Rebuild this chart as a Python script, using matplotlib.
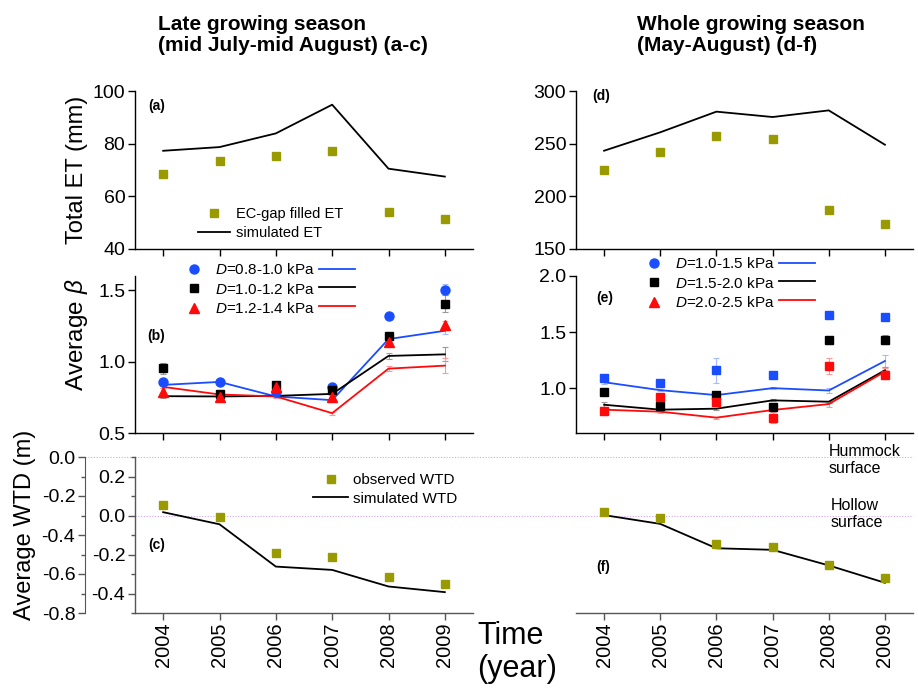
import matplotlib
matplotlib.use('Agg')
import matplotlib.pyplot as plt
from matplotlib.lines import Line2D
from matplotlib.ticker import MultipleLocator, FormatStrFormatter
import matplotlib.transforms as mtransforms

plt.rcParams['font.family'] = ['Liberation Sans', 'DejaVu Sans']
plt.rcParams['axes.unicode_minus'] = False
plt.rcParams['mathtext.fontset'] = 'custom'
plt.rcParams['mathtext.rm'] = 'Liberation Sans'
plt.rcParams['mathtext.it'] = 'Liberation Sans:italic'
plt.rcParams['mathtext.bf'] = 'Liberation Sans:bold'

# ---------------- data ----------------
years = [2004, 2005, 2006, 2007, 2008, 2009]

et_late_obs = [68.4, 73.3, 75.3, 77.2, 54.2, 51.3]
et_late_sim = [77.3, 78.7, 83.9, 94.8, 70.5, 67.5]
et_whole_obs = [225.3, 241.8, 257.3, 254.4, 186.7, 173.4]
et_whole_sim = [243.3, 260.8, 280.4, 275.3, 281.6, 249.0]

late_labels = ['0.8-1.0', '1.0-1.2', '1.2-1.4']
beta_late_obs_1 = [0.860, 0.860, 0.786, 0.823, 1.321, 1.505]
beta_late_obs_2 = [0.953, 0.774, 0.835, 0.800, 1.177, 1.405]
beta_late_obs_3 = [0.786, 0.754, 0.819, 0.754, 1.135, 1.258]
beta_late_obs_err_1 = [0.02, 0.01, 0.02, 0.02, 0.02, 0.04]
beta_late_obs_err_2 = [0.04, 0.02, 0.02, 0.02, 0.02, 0.06]
beta_late_obs_err_3 = [0.03, 0.02, 0.03, 0.03, 0.02, 0.03]
beta_late_sim_1 = [0.837, 0.858, 0.756, 0.730, 1.158, 1.216]
beta_late_sim_2 = [0.758, 0.756, 0.760, 0.774, 1.040, 1.051]
beta_late_sim_3 = [0.823, 0.770, 0.756, 0.639, 0.951, 0.972]
beta_late_sim_err_1 = [0.01, 0.01, 0.01, 0.01, 0.01, 0.02]
beta_late_sim_err_2 = [0.01, 0.01, 0.01, 0.01, 0.02, 0.05]
beta_late_sim_err_3 = [0.01, 0.01, 0.01, 0.01, 0.02, 0.05]

whole_labels = ['1.0-1.5', '1.5-2.0', '2.0-2.5']
beta_whole_obs_1 = [1.086, 1.042, 1.159, 1.118, 1.649, 1.631]
beta_whole_obs_2 = [0.962, 0.843, 0.938, 0.829, 1.425, 1.430]
beta_whole_obs_3 = [0.794, 0.918, 0.876, 0.735, 1.195, 1.121]
beta_whole_obs_err_1 = [0.02, 0.02, 0.11, 0.02, 0.02, 0.02]
beta_whole_obs_err_2 = [0.02, 0.02, 0.03, 0.02, 0.03, 0.04]
beta_whole_obs_err_3 = [0.03, 0.02, 0.03, 0.05, 0.07, 0.04]
beta_whole_sim_1 = [1.053, 0.982, 0.938, 1.000, 0.979, 1.242]
beta_whole_sim_2 = [0.852, 0.808, 0.817, 0.891, 0.879, 1.159]
beta_whole_sim_3 = [0.808, 0.790, 0.737, 0.805, 0.858, 1.147]
beta_whole_sim_err_1 = [0.02, 0.01, 0.01, 0.01, 0.02, 0.05]
beta_whole_sim_err_2 = [0.02, 0.01, 0.01, 0.01, 0.01, 0.03]
beta_whole_sim_err_3 = [0.02, 0.01, 0.01, 0.01, 0.03, 0.03]

wtd_late_obs = [0.053, -0.007, -0.191, -0.215, -0.314, -0.350]
wtd_late_sim = [0.017, -0.045, -0.262, -0.279, -0.364, -0.393]
wtd_whole_obs = [0.019, -0.014, -0.147, -0.159, -0.253, -0.320]
wtd_whole_sim = [0.002, -0.043, -0.168, -0.176, -0.256, -0.345]

# ---------------- style ----------------
OLIVE = '#999900'
BLUE = '#1a4dff'
RED = '#ff0a0a'
BLACK = '#000000'
LBLUE = '#a8baff'
LGRAY = '#9a9a9a'
LRED = '#ff9a9a'
GRAYSP = '#555555'

W, H = 918, 691
fig = plt.figure(figsize=(W / 100, H / 100), dpi=100)


def box(x0, y0, x1, y1):
    return [x0 / W, 1 - y1 / H, (x1 - x0) / W, (y1 - y0) / H]


ax_a = fig.add_axes(box(135, 91, 473, 249))
ax_b = fig.add_axes(box(135, 276, 473, 433))
ax_c = fig.add_axes(box(135, 457, 473, 613))
ax_d = fig.add_axes(box(576, 91, 913, 249))
ax_e = fig.add_axes(box(576, 276, 913, 433))
ax_f = fig.add_axes(box(576, 457, 913, 613))


def style(ax, spcolor='black', left=True, xlabels=False):
    ax.set_facecolor('none')
    for s in ['top', 'right']:
        ax.spines[s].set_visible(False)
    ax.spines['left'].set_visible(left)
    for s in ['left', 'bottom']:
        ax.spines[s].set_color(spcolor)
        ax.spines[s].set_linewidth(1.0)
    ax.set_xlim(2003.5, 2009.5)
    ax.set_xticks(years)
    ax.tick_params(axis='both', which='major', direction='out', length=5, width=1,
                   color=spcolor, labelsize=14, pad=2)
    ax.tick_params(axis='both', which='minor', direction='out', length=3, width=1,
                   color=spcolor)
    if xlabels:
        ax.set_xticklabels([str(y) for y in years], rotation=90, fontsize=14.5)
    else:
        ax.tick_params(axis='x', labelbottom=False)
    if not left:
        ax.tick_params(axis='y', which='both', left=False, labelleft=False)


for ax in (ax_a, ax_b, ax_d, ax_e):
    style(ax)
style(ax_c, GRAYSP, True, True)
style(ax_f, GRAYSP, False, True)

# ---- (a) ----
ax_a.plot(years, et_late_sim, color=BLACK, lw=1.3, zorder=2)
ax_a.plot(years, et_late_obs, ls='none', marker='s', ms=6, color=OLIVE, zorder=3)
ax_a.set_ylim(40, 100)
ax_a.set_yticks([40, 60, 80, 100])

# ---- (d) ----
ax_d.plot(years, et_whole_sim, color=BLACK, lw=1.3, zorder=2)
ax_d.plot(years, et_whole_obs, ls='none', marker='s', ms=6, color=OLIVE, zorder=3)
ax_d.set_ylim(150, 300)
ax_d.set_yticks([150, 200, 250, 300])


def beta_panel(ax, obs, obs_err, sim, sim_err, markers, msizes):
    cols = [BLUE, BLACK, RED]
    lcols = [LBLUE, LGRAY, LRED]
    for s, se, c, lc in zip(sim, sim_err, cols, lcols):
        ax.errorbar(years, s, yerr=se, fmt='none', ecolor=lc, elinewidth=0.8,
                    capsize=2.5, capthick=0.8, zorder=1)
        ax.plot(years, s, color=c, lw=1.3, zorder=2)
    for o, oe, c, lc, m, ms in zip(obs, obs_err, cols, lcols, markers, msizes):
        ax.errorbar(years, o, yerr=oe, fmt='none', ecolor=lc, elinewidth=0.8,
                    capsize=2.5, capthick=0.8, zorder=1)
        ax.plot(years, o, ls='none', marker=m, ms=ms, color=c, zorder=3)


# ---- (b) ----
beta_panel(ax_b,
           [beta_late_obs_1, beta_late_obs_2, beta_late_obs_3],
           [beta_late_obs_err_1, beta_late_obs_err_2, beta_late_obs_err_3],
           [beta_late_sim_1, beta_late_sim_2, beta_late_sim_3],
           [beta_late_sim_err_1, beta_late_sim_err_2, beta_late_sim_err_3],
           ['o', 's', '^'], [6.5, 6, 7])
ax_b.set_ylim(0.5, 1.6)
ax_b.set_yticks([0.5, 1.0, 1.5])
ax_b.yaxis.set_major_formatter(FormatStrFormatter('%.1f'))

# ---- (e) ----
beta_panel(ax_e,
           [beta_whole_obs_1, beta_whole_obs_2, beta_whole_obs_3],
           [beta_whole_obs_err_1, beta_whole_obs_err_2, beta_whole_obs_err_3],
           [beta_whole_sim_1, beta_whole_sim_2, beta_whole_sim_3],
           [beta_whole_sim_err_1, beta_whole_sim_err_2, beta_whole_sim_err_3],
           ['s', 's', 's'], [6, 6, 6])
ax_e.set_ylim(0.6, 2.0)
ax_e.set_yticks([1.0, 1.5, 2.0])
ax_e.yaxis.set_major_formatter(FormatStrFormatter('%.1f'))

# ---- (c) ----
ax_c.plot(years, wtd_late_sim, color=BLACK, lw=1.3, zorder=2)
ax_c.plot(years, wtd_late_obs, ls='none', marker='s', ms=6, color=OLIVE, zorder=3)
ax_c.set_ylim(-0.5, 0.3)
ax_c.set_yticks([-0.4, -0.2, 0.0, 0.2])
ax_c.yaxis.set_minor_locator(MultipleLocator(0.1))
ax_c.yaxis.set_major_formatter(FormatStrFormatter('%.1f'))

sec = ax_c.secondary_yaxis((85 - 135) / 338, functions=(lambda y: y - 0.3, lambda y: y + 0.3))
sec.set_yticks([0.0, -0.2, -0.4, -0.6, -0.8])
sec.yaxis.set_minor_locator(MultipleLocator(0.1))
sec.yaxis.set_major_formatter(FormatStrFormatter('%.1f'))
sec.spines['left'].set_color(GRAYSP)
sec.tick_params(axis='y', which='major', direction='out', length=5, width=1, color=GRAYSP,
                labelsize=14, pad=2)
sec.tick_params(axis='y', which='minor', direction='out', length=3, width=1, color=GRAYSP)

# ---- (f) ----
ax_f.plot(years, wtd_whole_sim, color=BLACK, lw=1.3, zorder=2)
ax_f.plot(years, wtd_whole_obs, ls='none', marker='s', ms=6, color=OLIVE, zorder=3)
ax_f.set_ylim(-0.5, 0.3)

# reference lines (hummock 0.3 / hollow 0.0 surfaces)
trans = mtransforms.blended_transform_factory(fig.transFigure, ax_c.transData)
for yref, x0 in [(0.3, 85), (0.0, 135)]:
    fig.add_artist(Line2D([x0 / W, 913 / W], [yref, yref], transform=trans,
                          color='#cfa6f0', lw=0.8, ls=(0, (1, 1.5)), zorder=0))

# ---------------- legends ----------------
common = dict(frameon=False, borderpad=0, borderaxespad=0,
              bbox_transform=fig.transFigure, loc='upper left')

h_obs = Line2D([], [], ls='none', marker='s', ms=6, color=OLIVE)
h_sim = Line2D([], [], color=BLACK, lw=1.3)
ax_a.legend([h_obs, h_sim], ['EC-gap filled ET', 'simulated ET'], fontsize=10.5,
            bbox_to_anchor=(198 / W, 1 - 207 / H), handlelength=2.2,
            handletextpad=0.4, labelspacing=0.35, **common)
ax_c.legend([h_obs, h_sim], ['observed WTD', 'simulated WTD'], fontsize=11,
            bbox_to_anchor=(313 / W, 1 - 473 / H), handlelength=2.3,
            handletextpad=0.3, labelspacing=0.3, **common)


def beta_legend(ax, labels, anchor):
    mk = [Line2D([], [], ls='none', marker='o', ms=6.5, color=BLUE),
          Line2D([], [], ls='none', marker='s', ms=6, color=BLACK),
          Line2D([], [], ls='none', marker='^', ms=7, color=RED)]
    ln = [Line2D([], [], color=c, lw=1.3) for c in (BLUE, BLACK, RED)]
    labs = [r'$D$=' + l + ' kPa' for l in labels] + ['', '', '']
    ax.legend(mk + ln, labs, ncol=2, bbox_to_anchor=anchor, handlelength=2.4, fontsize=11,
              handletextpad=0.15, columnspacing=0.25, labelspacing=0.3, **common)


beta_legend(ax_b, late_labels, (176 / W, 1 - 262 / H))
beta_legend(ax_e, whole_labels, (636 / W, 1 - 256 / H))

# ---------------- texts ----------------
plabel = dict(fontsize=10, fontweight='bold', va='center', ha='left')
ax_a.text(0.038, 0.908, '(a)', transform=ax_a.transAxes, **plabel)
ax_b.text(0.036, 0.618, '(b)', transform=ax_b.transAxes, **plabel)
ax_c.text(0.038, 0.433, '(c)', transform=ax_c.transAxes, **plabel)
ax_d.text(0.047, 0.968, '(d)', transform=ax_d.transAxes, **plabel)
ax_e.text(0.059, 0.857, '(e)', transform=ax_e.transAxes, **plabel)
ax_f.text(0.059, 0.298, '(f)', transform=ax_f.transAxes, **plabel)

fig.text(158 / W, 1 - 15 / H, 'Late growing season\n(mid July-mid August) (a-c)',
         fontsize=15, fontweight='bold', va='top', ha='left', linespacing=1.15)
fig.text(637 / W, 1 - 15 / H, 'Whole growing season\n(May-August) (d-f)',
         fontsize=15, fontweight='bold', va='top', ha='left', linespacing=1.15)

fig.text(77 / W, 1 - 170 / H, 'Total ET (mm)', rotation=90, ha='center', va='center', fontsize=17)
fig.text(77 / W, 1 - 335 / H, r'Average $\beta$', rotation=90, ha='center', va='center', fontsize=17.5)
fig.text(25 / W, 1 - 525 / H, 'Average WTD (m)', rotation=90, ha='center', va='center', fontsize=17)
fig.text(477 / W, 1 - 621 / H, 'Time\n(year)', ha='left', va='top', fontsize=22, linespacing=1.15)

fig.text(829 / W, 1 - 444 / H, 'Hummock\nsurface', ha='left', va='top', fontsize=11.5, linespacing=1.15)
fig.text(831 / W, 1 - 498 / H, 'Hollow\nsurface', ha='left', va='top', fontsize=11.5, linespacing=1.15)

fig.savefig('out.png', dpi=100)
